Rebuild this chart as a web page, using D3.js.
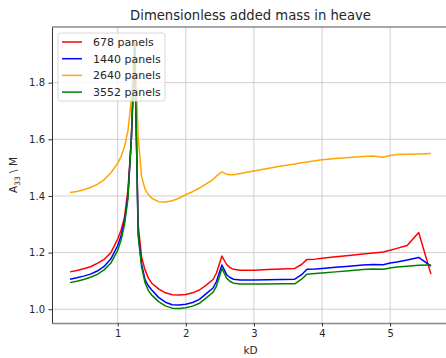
<!DOCTYPE html>
<html>
<head>
<meta charset="utf-8">
<script src="https://cdn.jsdelivr.net/npm/d3@7"></script>
<style>
  body { margin: 0; background: #fff; }
  svg { display: block; font-family: "DejaVu Sans", sans-serif; }
</style>
</head>
<body>
<svg width="446" height="358"></svg>
<script>
// kD values shared by all four series
let kD = [0.3, 0.4, 0.5, 0.6, 0.7, 0.8, 0.9, 1.0, 1.05, 1.1, 1.15, 1.2, 1.25, 1.3, 1.35, 1.4, 1.45, 1.5,
          1.6, 1.7, 1.8, 1.9, 2.0, 2.1, 2.2, 2.3, 2.4, 2.45, 2.5, 2.53, 2.6, 2.65, 2.7, 2.8, 3.0, 3.2, 3.4,
          3.6, 3.7, 3.78, 3.9, 4.0, 4.2, 4.4, 4.6, 4.75, 4.9, 5.0, 5.1, 5.25, 5.42, 5.6];

let panels678 = [1.132, 1.137, 1.143, 1.150, 1.162, 1.176, 1.200, 1.248, 1.280, 1.325, 1.420, 1.600, 1.920, 1.300, 1.185, 1.140, 1.110, 1.092,
                 1.072, 1.058, 1.051, 1.050, 1.052, 1.058, 1.068, 1.085, 1.105, 1.128, 1.165, 1.188, 1.158, 1.147, 1.141, 1.138, 1.138, 1.140, 1.142,
                 1.144, 1.158, 1.176, 1.177, 1.180, 1.185, 1.190, 1.195, 1.199, 1.202, 1.208, 1.215, 1.225, 1.271, 1.124];

let panels1440 = [1.106, 1.111, 1.117, 1.124, 1.135, 1.151, 1.178, 1.225, 1.260, 1.310, 1.400, 1.600, 1.930, 1.270, 1.160, 1.105, 1.083, 1.068,
                  1.042, 1.025, 1.016, 1.015, 1.018, 1.024, 1.035, 1.055, 1.075, 1.098, 1.135, 1.156, 1.122, 1.112, 1.106, 1.103, 1.103, 1.104, 1.105,
                  1.106, 1.122, 1.141, 1.142, 1.144, 1.148, 1.152, 1.156, 1.158, 1.157, 1.163, 1.167, 1.174, 1.183, 1.152];

let panels2640 = [1.412, 1.416, 1.422, 1.430, 1.441, 1.457, 1.482, 1.515, 1.540, 1.575, 1.630, 1.740, 1.950, 1.610, 1.470, 1.425, 1.405, 1.392,
                  1.380, 1.379, 1.383, 1.392, 1.405, 1.415, 1.428, 1.443, 1.458, 1.470, 1.480, 1.485, 1.477, 1.475, 1.475, 1.479, 1.488, 1.497, 1.506,
                  1.513, 1.517, 1.520, 1.524, 1.528, 1.532, 1.536, 1.539, 1.541, 1.537, 1.543, 1.546, 1.547, 1.548, 1.550];

let panels3552 = [1.094, 1.099, 1.105, 1.113, 1.123, 1.139, 1.163, 1.208, 1.245, 1.300, 1.390, 1.600, 1.940, 1.260, 1.150, 1.095, 1.066, 1.050,
                  1.027, 1.012, 1.004, 1.003, 1.005, 1.011, 1.021, 1.040, 1.060, 1.082, 1.120, 1.144, 1.110, 1.098, 1.092, 1.089, 1.089, 1.089, 1.090,
                  1.090, 1.106, 1.124, 1.126, 1.128, 1.132, 1.136, 1.140, 1.142, 1.141, 1.146, 1.149, 1.152, 1.155, 1.156];

let seriesNames  = ['678 panels', '1440 panels', '2640 panels', '3552 panels'];
let seriesValues = [panels678, panels1440, panels2640, panels3552];
let seriesColors = ['red', 'blue', 'orange', 'green'];

let xTicks = [1, 2, 3, 4, 5];
let yTicks = [1.0, 1.2, 1.4, 1.6, 1.8];

let plotLeft = 52, plotRight = 449, plotTop = 27, plotBottom = 323;

let xScale = d3.scaleLinear().domain([0.035, 5.865]).range([plotLeft, plotRight]),
    yScale = d3.scaleLinear().domain([0.9515, 1.9965]).range([plotBottom, plotTop]);

let svg = d3.select('svg');

svg.append('clipPath').attr('id', 'plot')
  .append('rect')
    .attr('x', plotLeft).attr('y', plotTop)
    .attr('width', plotRight - plotLeft).attr('height', plotBottom - plotTop);

let xAxis = d3.axisBottom(xScale).tickValues(xTicks).tickFormat(d3.format('d'))
                .tickSize(3.5).tickPadding(3.5).tickSizeOuter(0),
    yAxis = d3.axisLeft(yScale).tickValues(yTicks).tickFormat(d3.format('.1f'))
                .tickSize(3.5).tickPadding(3.5).tickSizeOuter(0);

//Grid
svg.append('g').selectAll('line')
  .data(xTicks).enter().append('line')
    .attr('x1', d => xScale(d)).attr('x2', d => xScale(d))
    .attr('y1', plotTop).attr('y2', plotBottom)
    .attr('stroke', '#cfcfcf').attr('stroke-width', 1);

svg.append('g').selectAll('line')
  .data(yTicks).enter().append('line')
    .attr('x1', plotLeft).attr('x2', plotRight)
    .attr('y1', d => yScale(d)).attr('y2', d => yScale(d))
    .attr('stroke', '#cfcfcf').attr('stroke-width', 1);

//Lines
let line = d3.line()
    .x((d, i) => xScale(kD[i]))
    .y(d => yScale(d));

svg.append('g').attr('clip-path', 'url(#plot)')
  .selectAll('path')
  .data(seriesValues)
  .enter()
  .append('path')
    .attr('d', line)
    .attr('fill', 'none')
    .attr('stroke', (d, i) => seriesColors[i])
    .attr('stroke-width', 1.5)
    .attr('stroke-linejoin', 'round');

//Spines
svg.append('line').attr('x1', plotLeft).attr('x2', plotRight).attr('y1', plotTop).attr('y2', plotTop)
    .attr('stroke', '#555').attr('stroke-width', 1.2);

//Axes
let gx = svg.append('g')
    .attr('transform', `translate(0, ${plotBottom})`)
    .call(xAxis);
let gy = svg.append('g')
    .attr('transform', `translate(${plotLeft}, 0)`)
    .call(yAxis);
gx.select('.domain').attr('stroke', '#888').attr('stroke-width', 1.5);
gy.select('.domain').attr('stroke', '#333');
[gx, gy].forEach(g => {
  g.selectAll('.tick line').attr('stroke', '#333');
  g.selectAll('.tick text').attr('fill', '#262626')
    .style('font-family', '"DejaVu Sans", sans-serif').style('font-size', '10px');
});

//Legend
let legend = svg.append('g');
legend.append('rect')
    .attr('x', 58).attr('y', 33).attr('width', 107).attr('height', 68)
    .attr('rx', 2.5)
    .attr('fill', 'white').attr('fill-opacity', 0.8)
    .attr('stroke', '#d6d6d6').attr('stroke-width', 1);
let entries = legend.selectAll('g.entry')
  .data(seriesNames).enter().append('g')
    .attr('transform', (d, i) => `translate(0, ${42 + i * 16.7})`);
entries.append('line')
    .attr('x1', 62).attr('x2', 82).attr('y1', 0).attr('y2', 0)
    .attr('stroke', (d, i) => seriesColors[i]).attr('stroke-width', 1.5);
entries.append('text')
    .attr('x', 93).attr('y', 0).attr('dy', '0.35em')
    .attr('font-size', '11px').attr('fill', '#262626')
    .text(d => d);

//Title and labels
svg.append('text')
    .attr('x', (plotLeft + plotRight) / 2).attr('y', 20)
    .attr('font-size', '13.2px').attr('fill', '#262626')
    .style('text-anchor', 'middle')
    .text('Dimensionless added mass in heave');

svg.append('text')
    .attr('x', (plotLeft + plotRight) / 2).attr('y', 354)
    .attr('font-size', '10.5px').attr('fill', '#262626')
    .style('text-anchor', 'middle')
    .text('kD');

let ylab = svg.append('text')
    .attr('transform', `translate(17, ${(plotTop + plotBottom) / 2}) rotate(-90)`)
    .attr('font-size', '10.5px').attr('fill', '#262626')
    .style('text-anchor', 'middle');
ylab.append('tspan').text('A');
ylab.append('tspan').attr('font-size', '7.5px').attr('dy', '2.5').text('33');
ylab.append('tspan').attr('dy', '-2.5').text(' \\ M');
</script>
</body>
</html>
